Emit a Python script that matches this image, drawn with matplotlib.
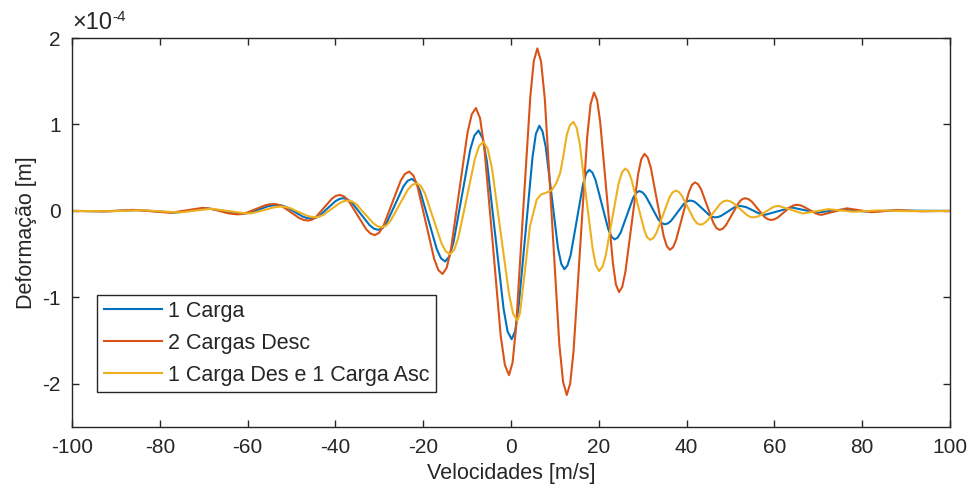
import matplotlib
matplotlib.use("Agg")
import numpy as np
import matplotlib.pyplot as plt

plt.rcParams['font.family'] = ['Liberation Sans', 'DejaVu Sans']
plt.rcParams['axes.unicode_minus'] = False
plt.rcParams['font.size'] = 15

# (velocity [m/s], deformation [x1e-4 m])
pts_1carga = np.array([
    (-100, 0), (-92, -0.005), (-85, 0.01), (-76.5, -0.02), (-69.3, 0.03),
    (-61.3, -0.035), (-59.3, -0.020), (-57.3, 0.018), (-55.3, 0.055), (-53.3, 0.07),
    (-52.3, 0.064), (-51.3, 0.047), (-49.35, -0.01), (-47.4, -0.067), (-46.4, -0.084),
    (-45.4, -0.09), (-44.5, -0.081), (-43.6, -0.055), (-41.8, 0.029), (-40.0, 0.112),
    (-39.1, 0.138), (-38.2, 0.147), (-37.2, 0.133), (-36.2, 0.093), (-34.2, -0.037),
    (-32.2, -0.166), (-31.2, -0.206), (-30.2, -0.22), (-29.25, -0.198), (-28.3, -0.134),
    (-26.4, 0.075), (-24.5, 0.284), (-23.55, 0.348), (-22.6, 0.37), (-21.65, 0.334),
    (-20.7, 0.230), (-18.8, -0.108), (-16.9, -0.445), (-15.95, -0.549), (-15.0, -0.585),
    (-14.05, -0.527), (-13.1, -0.363), (-11.2, 0.173), (-9.3, 0.708), (-8.35, 0.872),
    (-7.4, 0.93), (-6.45, 0.838), (-5.5, 0.576), (-3.6, -0.278), (-1.7, -1.131),
    (-0.8, -1.393), (0.15, -1.485), (0.94, -1.391), (1.7, -1.123), (3.3, -0.25),
    (4.9, 0.623), (5.66, 0.891), (6.45, 0.985), (7.16, 0.922), (7.9, 0.742),
    (9.3, 0.155), (10.7, -0.432), (11.44, -0.612), (12.15, -0.675), (12.86, -0.631),
    (13.6, -0.507), (15.0, -0.1), (16.4, 0.307), (17.09, 0.431), (17.8, 0.475),
    (18.53, 0.444), (19.25, 0.357), (20.7, 0.073), (22.15, -0.212), (22.88, -0.299),
    (23.6, -0.33), (24.3, -0.309), (25.0, -0.248), (26.4, -0.05), (27.8, 0.148),
    (28.5, 0.209), (29.2, 0.23), (29.93, 0.215), (30.65, 0.174), (32.1, 0.038),
    (33.55, -0.099), (34.28, -0.140), (35.0, -0.155), (35.73, -0.145), (36.45, -0.115),
    (37.9, -0.018), (39.35, 0.080), (40.08, 0.110), (40.8, 0.12), (41.51, 0.113),
    (42.2, 0.091), (43.65, 0.023), (45.1, -0.046), (45.79, -0.068), (46.5, -0.075),
    (47.21, -0.070), (47.9, -0.056), (49.35, -0.009), (50.8, 0.039), (51.49, 0.053),
    (52.2, 0.058), (53.6, 0.043), (55.05, 0.007), (56.5, -0.030), (57.9, -0.045),
    (63.9, 0.04), (69.6, -0.02), (75.3, 0.015), (81, -0.008), (87, 0.004),
    (100, 0),
])

pts_2desc = np.array([
    (-100, 0), (-93, -0.006), (-86, 0.012), (-77.5, -0.022), (-70.3, 0.035),
    (-68.3, 0.024), (-66.3, -0.003), (-64.3, -0.029), (-62.3, -0.04), (-61.27, -0.035),
    (-60.25, -0.022), (-58.2, 0.02), (-56.15, 0.062), (-55.13, 0.075), (-54.1, 0.08),
    (-53.1, 0.073), (-52.1, 0.052), (-50.15, -0.016), (-48.2, -0.084), (-47.2, -0.105),
    (-46.2, -0.112), (-45.3, -0.101), (-44.4, -0.068), (-42.6, 0.037), (-40.8, 0.141),
    (-39.9, 0.174), (-39.0, 0.185), (-38.0, 0.167), (-37.0, 0.117), (-35.0, -0.048),
    (-33.0, -0.212), (-32.0, -0.262), (-31.0, -0.28), (-30.03, -0.252), (-29.05, -0.172),
    (-27.1, 0.088), (-25.15, 0.347), (-24.18, 0.427), (-23.2, 0.455), (-22.25, 0.410),
    (-21.3, 0.281), (-19.4, -0.138), (-17.5, -0.556), (-16.55, -0.685), (-15.6, -0.73),
    (-14.65, -0.657), (-13.7, -0.449), (-11.8, 0.23), (-9.9, 0.909), (-8.95, 1.117),
    (-8.0, 1.19), (-7.06, 1.073), (-6.1, 0.737), (-4.2, -0.355), (-2.35, -1.447),
    (-1.40, -1.783), (-0.46, -1.90), (0.35, -1.756), (1.15, -1.346), (2.75, -0.01),
    (4.4, 1.326), (5.19, 1.736), (6.0, 1.88), (6.84, 1.728), (7.7, 1.293),
    (9.35, -0.125), (11.0, -1.543), (11.86, -1.978), (12.7, -2.13), (13.48, -1.997),
    (14.25, -1.617), (15.8, -0.38), (17.35, 0.857), (18.13, 1.237), (18.9, 1.37),
    (19.61, 1.282), (20.3, 1.032), (21.75, 0.215), (23.2, -0.602), (23.89, -0.852),
    (24.6, -0.94), (25.33, -0.879), (26.05, -0.706), (27.5, -0.14), (28.95, 0.426),
    (29.68, 0.599), (30.4, 0.66), (31.13, 0.618), (31.85, 0.497), (33.3, 0.105),
    (34.75, -0.287), (35.48, -0.408), (36.2, -0.45), (36.91, -0.420), (37.6, -0.336),
    (39.05, -0.06), (40.5, 0.216), (41.19, 0.300), (41.9, 0.33), (42.6, 0.309),
    (43.3, 0.249), (44.7, 0.055), (46.1, -0.139), (46.8, -0.199), (47.5, -0.22),
    (48.23, -0.206), (48.95, -0.166), (50.4, -0.037), (51.85, 0.093), (52.58, 0.133),
    (53.3, 0.147), (54.04, 0.137), (54.8, 0.110), (56.25, 0.021), (57.7, -0.068),
    (58.46, -0.095), (59.2, -0.105), (59.94, -0.098), (60.7, -0.079), (62.15, -0.018),
    (63.6, 0.044), (64.36, 0.063), (65.1, 0.07), (65.81, 0.066), (66.5, 0.053),
    (67.95, 0.013), (69.4, -0.028), (70.09, -0.041), (70.8, -0.045), (76.5, 0.03),
    (82.2, -0.015), (87.9, 0.01), (93.5, -0.005), (100, 0),
])

pts_desasc = np.array([
    (-100, 0), (-91, -0.004), (-84, 0.008), (-75.5, -0.018), (-68.3, 0.025),
    (-60.3, -0.03), (-59.29, -0.027), (-58.3, -0.018), (-56.25, 0.01), (-54.2, 0.038),
    (-53.21, 0.047), (-52.2, 0.05), (-51.25, 0.045), (-50.3, 0.032), (-48.4, -0.012),
    (-46.5, -0.055), (-45.55, -0.068), (-44.6, -0.073), (-43.66, -0.066), (-42.7, -0.045),
    (-40.85, 0.024), (-38.95, 0.092), (-38.04, 0.113), (-37.1, 0.12), (-36.14, 0.108),
    (-35.2, 0.075), (-33.3, -0.035), (-31.35, -0.145), (-30.41, -0.178), (-29.45, -0.19),
    (-28.46, -0.171), (-27.45, -0.115), (-25.5, 0.065), (-23.5, 0.245), (-22.49, 0.301),
    (-21.5, 0.32), (-20.55, 0.289), (-19.6, 0.200), (-17.7, -0.09), (-15.8, -0.380),
    (-14.85, -0.469), (-13.9, -0.50), (-12.95, -0.451), (-12.0, -0.310), (-10.1, 0.15),
    (-8.2, 0.610), (-7.25, 0.751), (-6.3, 0.80), (-5.33, 0.721), (-4.35, 0.497),
    (-2.4, -0.235), (-0.45, -0.967), (0.48, -1.191), (1.45, -1.27), (2.05, -1.18),
    (3.1, -0.72), (4.3, -0.18), (5.2, 0.0), (5.85, 0.13), (6.8, 0.19),
    (8.0, 0.21), (9.3, 0.24), (10.3, 0.32), (11.2, 0.44), (12.0, 0.66),
    (12.7, 0.88), (13.4, 0.99), (14.2, 1.03), (14.93, 0.964), (15.65, 0.777),
    (17.1, 0.168), (18.6, -0.442), (19.32, -0.629), (20.05, -0.695), (20.79, -0.650),
    (21.55, -0.521), (23.0, -0.103), (24.5, 0.316), (25.26, 0.445), (26.0, 0.49),
    (26.71, 0.459), (27.4, 0.369), (28.85, 0.078), (30.3, -0.214), (30.99, -0.304),
    (31.7, -0.335), (32.43, -0.313), (33.15, -0.252), (34.6, -0.05), (36.05, 0.152),
    (36.78, 0.213), (37.5, 0.235), (38.2, 0.220), (38.9, 0.177), (40.3, 0.038),
    (41.7, -0.102), (42.4, -0.145), (43.1, -0.16), (43.85, -0.149), (44.6, -0.119),
    (46.1, -0.02), (47.6, 0.079), (48.35, 0.109), (49.1, 0.12), (49.86, 0.113),
    (50.6, 0.091), (52.15, 0.023), (53.7, -0.046), (54.44, -0.068), (55.2, -0.075),
    (55.91, -0.070), (56.6, -0.056), (58.05, -0.009), (59.5, 0.039), (60.19, 0.053),
    (60.9, 0.058), (66.5, -0.03), (72.3, 0.02), (78, -0.01), (83.7, 0.006),
    (90, -0.003), (100, 0),
])

labels = ['1 Carga', '2 Cargas Desc', '1 Carga Des e 1 Carga Asc']
colors = ['#0072BD', '#D95319', '#EDB120']
xticks = [-100, -80, -60, -40, -20, 0, 20, 40, 60, 80, 100]
yticks = [-2, -1, 0, 1, 2]

axcol = '#262626'

fig = plt.figure(figsize=(9.72, 4.99), dpi=100)
ax = fig.add_axes([0.0741, 0.1443, 0.9033, 0.7795])

for pts, lab, c in zip([pts_1carga, pts_2desc, pts_desasc], labels, colors):
    ax.plot(pts[:, 0], pts[:, 1], color=c, lw=1.5, label=lab)

ax.set_xlim(-100, 100)
ax.set_ylim(-2.5, 2)
ax.set_xticks(xticks)
ax.set_yticks(yticks)

# MATLAB style exponent label above the y axis
ax.annotate('×10', xy=(0, 1), xycoords='axes fraction', xytext=(0, 3),
            textcoords='offset points', ha='left', va='bottom', color=axcol, fontsize=17)
ax.annotate('-4', xy=(0, 1), xycoords='axes fraction', xytext=(29, 10),
            textcoords='offset points', ha='left', va='bottom', color=axcol, fontsize=11)

ax.tick_params(direction='in', top=True, right=True, length=5, width=1,
               colors=axcol, labelcolor=axcol, pad=8)
for s in ax.spines.values():
    s.set_color(axcol)
    s.set_linewidth(1)

ax.set_xlabel('Velocidades [m/s]', color=axcol, fontsize=15.5)
ax.set_ylabel('Deformação [m]', color=axcol, fontsize=15.5)

leg = ax.legend(loc='lower left', bbox_to_anchor=(0.0285, 0.09), borderaxespad=0,
                fancybox=False, framealpha=1, edgecolor=axcol, handlelength=2.7,
                labelspacing=0.5, borderpad=0.3, handletextpad=0.3, fontsize=15.5)
leg.get_frame().set_linewidth(1)
for t in leg.get_texts():
    t.set_color(axcol)

fig.savefig('out.png', dpi=100)
